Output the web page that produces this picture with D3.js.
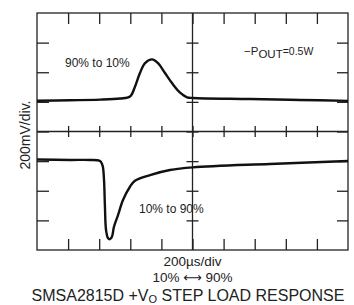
<!DOCTYPE html>
<html>
<head>
<meta charset="utf-8">
<script src="https://cdn.jsdelivr.net/npm/d3@7"></script>
<style>
  body { margin: 0; background: #fff; }
  svg { display: block; font-family: "Liberation Sans", Arial, sans-serif; }
  .grid line { stroke: #222; stroke-width: 1.3; }
  .trace { fill: none; stroke: #111; stroke-width: 2.4; stroke-linejoin: round; }
</style>
</head>
<body>
<div id="chart"></div>
<script>
// time in us (200us/div, 10 div), voltage in mV on screen (200mV/div, 8 div)
var upperTime = [0, 212, 405, 534, 598, 630, 662, 695, 740, 778, 823, 868, 920, 965, 1003, 1370, 1691, 2000];
var upperMv   = [208, 211, 215, 223, 236, 302, 395, 462, 487, 462, 395, 327, 262, 231, 226, 219, 213, 207];

var lowerTime = [0, 212, 341, 405, 418, 424, 431, 437, 444, 457, 469, 482, 495, 521, 553, 598, 630, 727, 855, 1003, 1498, 2000];
var lowerMv   = [-189, -192, -192, -199, -219, -240, -327, -510, -665, -721, -727, -710, -643, -564, -462, -373, -332, -294, -260, -242, -219, -199];

var xDivs = [200, 400, 600, 800, 1000, 1200, 1400, 1600, 1800];
var yDivs = [-600, -400, -200, 0, 200, 400, 600];

var WIDTH = 354,
    HEIGHT = 305,
    MARGINS = {top: 13, right: 6, bottom: 55, left: 37};

var x = d3.scaleLinear().domain([0, 2000]).range([MARGINS.left, WIDTH - MARGINS.right]);
var y = d3.scaleLinear().domain([-800, 800]).range([HEIGHT - MARGINS.bottom, MARGINS.top]);

var svg = d3.select("#chart").append("svg")
    .attr("width", WIDTH)
    .attr("height", HEIGHT);

var grid = svg.append("g").attr("class", "grid");

function noDomain(g) {
  g.select(".domain").remove();
  g.selectAll("text").remove();
  g.selectAll(".tick line").attr("stroke", "#222").attr("stroke-width", 1.3);
}

// frame and centre lines
grid.append("rect")
    .attr("x", x(0)).attr("y", y(800))
    .attr("width", x(2000) - x(0)).attr("height", y(-800) - y(800))
    .attr("fill", "none").attr("stroke", "#222").attr("stroke-width", 1.3);
grid.append("line")
    .attr("x1", x(0)).attr("x2", x(2000)).attr("y1", y(0)).attr("y2", y(0));
grid.append("line")
    .attr("x1", x(1000)).attr("x2", x(1000)).attr("y1", y(800)).attr("y2", y(-800));

// ticks on the edges
grid.append("g").attr("transform", "translate(0," + y(800) + ")")
    .call(d3.axisBottom(x).tickValues(xDivs).tickSize(11)).call(noDomain);
grid.append("g").attr("transform", "translate(0," + y(-800) + ")")
    .call(d3.axisTop(x).tickValues(xDivs).tickSize(11)).call(noDomain);
grid.append("g").attr("transform", "translate(0," + (y(0) - 5.5) + ")")
    .call(d3.axisBottom(x).tickValues(xDivs).tickSize(11)).call(noDomain);
grid.append("g").attr("transform", "translate(" + x(0) + ",0)")
    .call(d3.axisRight(y).tickValues(yDivs).tickSize(12)).call(noDomain);
grid.append("g").attr("transform", "translate(" + x(2000) + ",0)")
    .call(d3.axisLeft(y).tickValues(yDivs).tickSize(11)).call(noDomain);
grid.append("g").attr("transform", "translate(" + (x(1000) - 6) + ",0)")
    .call(d3.axisRight(y).tickValues(yDivs).tickSize(12)).call(noDomain);

// traces
var lineFunc = d3.line()
    .x(function(d) { return x(d[0]); })
    .y(function(d) { return y(d[1]); })
    .curve(d3.curveCatmullRom.alpha(0.5));

svg.append("path").attr("class", "trace")
    .attr("d", lineFunc(d3.zip(upperTime, upperMv)));
svg.append("path").attr("class", "trace")
    .attr("d", lineFunc(d3.zip(lowerTime, lowerMv)));

// labels
svg.append("text")
    .attr("x", 65).attr("y", 67)
    .style("font-size", "12px").attr("fill", "#222")
    .text("90% to 10%");

svg.append("text")
    .attr("x", 139).attr("y", 213)
    .style("font-size", "12px").attr("fill", "#222")
    .text("10% to 90%");

var pout = svg.append("text")
    .attr("x", 244).attr("y", 55)
    .style("font-size", "11.5px").attr("fill", "#222");
pout.append("tspan").text("\u2212P");
pout.append("tspan").attr("dy", 3).text("OUT");
pout.append("tspan").attr("dy", -3).style("font-size", "10.5px").text("=0.5W");

svg.append("text")
    .attr("transform", "translate(30,135) rotate(-90)")
    .style("text-anchor", "middle")
    .style("font-size", "14px").attr("fill", "#222")
    .text("200mV/div.");

svg.append("text")
    .attr("x", x(1000)).attr("y", 266)
    .style("text-anchor", "middle")
    .style("font-size", "13.5px").attr("fill", "#222")
    .text("200\u00b5s/div");

var range = svg.append("text")
    .attr("x", x(1000)).attr("y", 281.5)
    .style("text-anchor", "middle")
    .style("font-size", "13.5px").attr("fill", "#222");
range.append("tspan").text("10% ");
range.append("tspan").style("font-family", "DejaVu Sans").style("font-size", "13px").text("\u27f7");
range.append("tspan").text(" 90%");

var title = svg.append("text")
    .attr("x", 188).attr("y", 300.5)
    .style("text-anchor", "middle")
    .style("font-size", "16px").attr("fill", "#222");
title.append("tspan").text("SMSA2815D +V");
title.append("tspan").attr("dy", 2).style("font-size", "11px").text("O");
title.append("tspan").attr("dy", -2).text(" STEP LOAD RESPONSE");
</script>
</body>
</html>
